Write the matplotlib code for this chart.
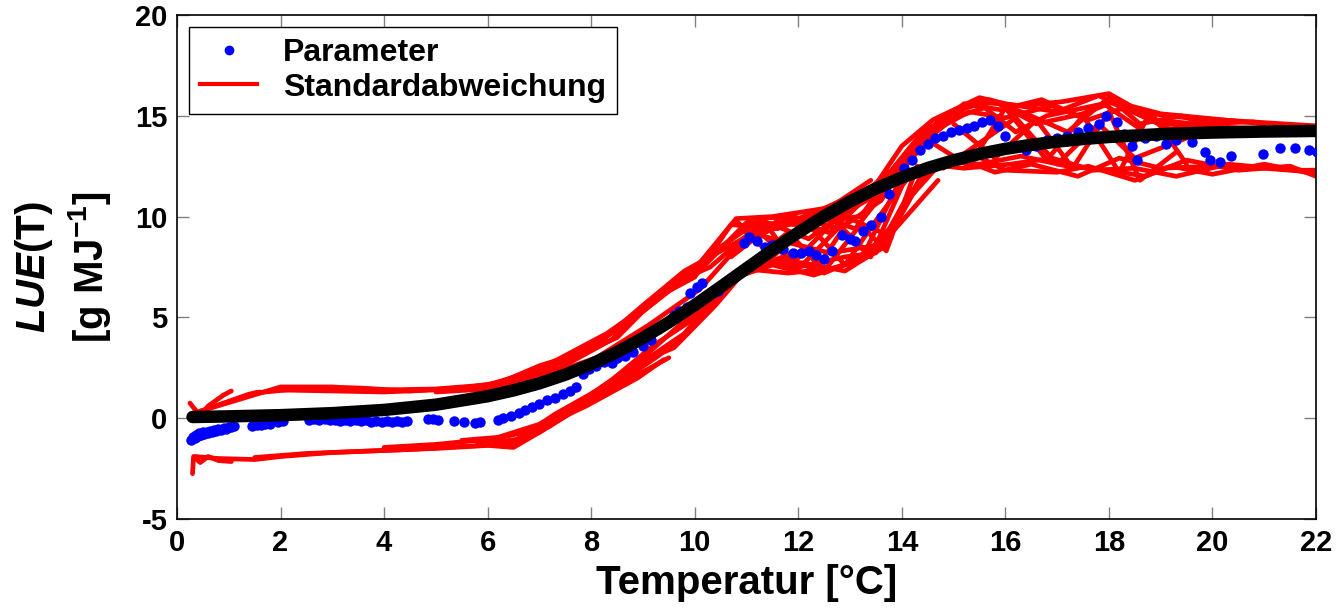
import matplotlib
matplotlib.use('Agg')
import matplotlib.pyplot as plt
from matplotlib.lines import Line2D

plt.rcParams['font.family'] = ['Liberation Sans', 'DejaVu Sans']
plt.rcParams['font.weight'] = 'bold'
plt.rcParams['axes.unicode_minus'] = False
plt.rcParams['mathtext.fontset'] = 'custom'
plt.rcParams['mathtext.rm'] = 'Liberation Sans:bold'
plt.rcParams['mathtext.it'] = 'Liberation Sans:italic:bold'
plt.rcParams['mathtext.bf'] = 'Liberation Sans:bold'

# ---------------- data ----------------
x_ticks = [0, 2, 4, 6, 8, 10, 12, 14, 16, 18, 20, 22]
y_ticks = [-5, 0, 5, 10, 15, 20]

fit_T = [0.3, 1, 2, 3, 4, 5, 6, 6.5, 7, 7.5, 8, 8.5, 9, 9.5, 10, 10.5, 11, 11.5,
         12, 12.5, 13, 13.5, 14, 14.5, 15, 15.5, 16, 16.5, 17, 17.5, 18, 19, 20, 21, 22]
fit_v = [0.06, 0.09, 0.15, 0.25, 0.41, 0.67, 1.09, 1.38, 1.73, 2.16, 2.68, 3.28, 3.98,
         4.76, 5.61, 6.51, 7.43, 8.34, 9.21, 10.02, 10.75, 11.39, 11.94, 12.41, 12.79,
         13.11, 13.36, 13.56, 13.72, 13.85, 13.95, 14.09, 14.17, 14.22, 14.25]

param_T = [0.28, 0.31, 0.34, 0.37, 0.40, 0.43, 0.46, 0.50, 0.53, 0.57, 0.60, 0.64, 0.68,
           0.72, 0.76, 0.80, 0.85, 0.90, 0.95, 1.00, 1.05, 1.10,
           1.45, 1.55, 1.62, 1.70, 1.80, 1.95, 2.05,
           2.55, 2.65, 2.75, 2.85, 2.95, 3.05, 3.15, 3.25, 3.35, 3.45, 3.55, 3.65,
           3.75, 3.85, 3.95, 4.05, 4.15, 4.25, 4.35, 4.45,
           4.85, 4.95, 5.05, 5.35, 5.55, 5.75, 5.85,
           6.2, 6.3, 6.45, 6.6, 6.72, 6.85, 7.0, 7.15, 7.3, 7.45, 7.6, 7.7, 7.85, 7.95,
           8.1, 8.25, 8.4, 8.5, 8.65, 8.8,
           9.0, 9.15, 9.3, 9.45, 9.6, 9.7, 9.85, 9.9, 10.05, 10.15, 10.45,
           10.95, 11.05, 11.2, 11.35, 11.5, 11.7, 11.9, 12.05, 12.2, 12.35, 12.5, 12.65,
           12.85, 13.0, 13.1, 13.25, 13.4, 13.6, 13.75, 13.9,
           14.05, 14.2, 14.35, 14.5, 14.65, 14.8, 14.95, 15.1, 15.25, 15.4, 15.55, 15.7, 15.85,
           16.0, 16.2, 16.4, 16.6, 16.8, 17.0, 17.2, 17.4, 17.6, 17.8, 17.95, 18.15, 18.3,
           18.45, 18.55, 18.7, 18.9, 19.1, 19.3, 19.6, 19.85, 19.95, 20.15, 20.35,
           20.97, 21.3, 21.6, 21.86, 22.02]
param_v = [-1.10, -0.95, -1.0, -0.85, -0.9, -0.75, -0.85, -0.7, -0.8, -0.7, -0.75, -0.65, -0.7,
           -0.6, -0.65, -0.55, -0.6, -0.5, -0.55, -0.45, -0.45, -0.4,
           -0.4, -0.35, -0.35, -0.3, -0.3, -0.2, -0.15,
           -0.1, -0.05, -0.1, -0.05, -0.1, -0.1, -0.15, -0.1, -0.15, -0.1, -0.15, -0.1,
           -0.2, -0.15, -0.2, -0.15, -0.2, -0.15, -0.2, -0.15,
           -0.05, -0.05, -0.1, -0.15, -0.2, -0.25, -0.2,
           -0.1, 0.0, 0.1, 0.25, 0.4, 0.55, 0.7, 0.9, 1.0, 1.2, 1.35, 1.55, 2.2, 2.45,
           2.6, 2.8, 2.75, 3.0, 3.1, 3.3,
           3.6, 3.9, 4.4, 4.7, 5.1, 5.3, 5.5, 6.2, 6.5, 6.7, 6.3,
           8.7, 9.0, 8.8, 8.5, 8.6, 8.4, 8.2, 8.2, 8.3, 8.1, 7.9, 8.3,
           9.1, 8.9, 8.8, 9.3, 9.6, 10.0, 11.1, 11.8,
           12.4, 12.8, 13.3, 13.6, 13.9, 14.0, 14.2, 14.3, 14.4, 14.5, 14.7, 14.8, 14.5,
           14.0, 13.5, 13.3, 13.5, 13.8, 13.9, 14.0, 14.2, 14.4, 14.6, 15.0, 14.7, 14.1,
           13.5, 12.8, 13.9, 14.0, 13.6, 13.8, 13.7, 13.2, 12.8, 12.7, 13.0,
           13.1, 13.4, 13.4, 13.3, 13.2]

# standard deviation runs (upper band, lower band, crossing runs)
std_upper = [
    [(0.25, 0.75), (0.45, 0.1), (0.6, 0.6), (0.9, 1.15), (1.05, 1.35)],
    [(0.4, 0.3), (1.4, 1.2), (1.6, 1.3)],
    [(0.45, 0.35), (2.0, 1.55), (3.0, 1.55), (4.0, 1.4), (5.0, 1.45), (6.0, 1.65), (7.0, 2.4),
     (8.0, 3.6), (9.0, 5.3), (10.0, 7.4), (10.8, 9.9), (11.5, 10.0), (12.5, 10.4), (13.5, 11.6),
     (14.0, 13.5), (14.6, 14.8), (15.5, 15.9), (16.0, 15.6), (17.0, 15.2), (17.8, 16.0),
     (18.5, 15.2), (19.5, 14.9), (22.0, 14.5)],
    [(1.5, 1.25), (2.5, 1.5), (3.5, 1.5), (4.5, 1.35), (5.5, 1.5), (6.2, 1.75), (7.2, 2.7),
     (8.3, 4.2), (9.3, 6.0), (10.2, 7.6), (11.0, 9.7), (12.0, 9.6), (13.0, 10.6), (13.8, 12.3),
     (14.4, 14.2), (15.2, 15.4), (15.8, 15.7), (16.6, 14.6), (17.5, 15.1), (18.0, 15.7),
     (19.0, 14.6), (20.5, 14.4), (22.0, 14.3)],
    [(2.0, 1.4), (4.0, 1.3), (5.8, 1.5), (6.8, 2.2), (7.8, 3.2), (8.8, 4.9), (9.8, 6.9),
     (10.9, 9.3), (11.3, 9.8), (12.2, 8.9), (12.9, 10.2), (13.6, 11.2), (14.2, 13.2),
     (15.0, 14.9), (15.6, 15.4), (16.2, 14.2), (16.8, 15.0), (17.9, 15.6), (18.8, 14.0),
     (19.6, 14.6), (20.8, 14.7)],
    [(6.0, 1.5), (7.0, 2.6), (8.0, 3.4), (9.0, 5.6), (9.8, 7.3), (11.0, 9.0), (11.8, 9.9),
     (12.6, 9.2), (13.3, 10.9), (14.0, 12.8), (14.8, 15.0), (15.7, 15.8), (16.4, 15.1),
     (17.2, 14.2), (18.0, 15.9), (18.6, 14.6), (19.4, 15.0), (20.2, 14.3)],
    [(6.5, 1.8), (7.5, 2.9), (8.5, 4.0), (9.5, 6.6), (10.3, 7.5), (11.2, 9.5), (12.4, 9.8),
     (13.2, 10.0), (14.3, 13.8), (15.3, 15.2), (16.0, 14.9), (16.9, 15.5), (17.6, 14.8),
     (18.3, 15.4), (19.2, 14.3), (20.0, 14.8)],
    [(5.0, 1.3), (6.0, 1.45), (6.8, 2.0), (7.6, 3.0), (8.6, 4.6), (9.6, 6.8), (10.5, 8.4),
     (11.1, 9.9), (11.9, 10.0), (12.8, 9.4), (13.6, 10.8), (14.3, 13.6), (15.2, 15.6),
     (15.9, 15.3), (16.7, 15.8), (17.4, 15.0), (18.1, 15.7), (19.0, 15.1), (21.0, 14.6)],
    [(6.3, 1.6), (7.4, 2.5), (8.4, 3.9), (9.2, 5.9), (10.0, 7.0), (10.7, 9.6), (11.6, 9.4),
     (12.3, 10.1), (13.1, 9.4), (13.9, 12.0), (14.7, 14.4), (15.4, 15.7), (16.3, 15.5),
     (17.1, 15.7), (18.0, 16.1), (18.9, 14.8), (20.0, 14.5)],
    [(7.0, 2.0), (8.1, 3.0), (9.1, 4.6), (10.1, 6.4), (10.9, 8.7), (11.7, 9.6), (12.7, 10.6),
     (13.4, 11.8)],
]
std_lower = [
    [(0.3, -2.75), (0.32, -1.9), (0.45, -2.2), (0.6, -1.9), (0.8, -2.1), (1.05, -2.15)],
    [(0.35, -1.9), (0.8, -2.0), (1.5, -2.05), (2.0, -1.9), (3.0, -1.7), (4.0, -1.6),
     (5.0, -1.5), (6.0, -1.35), (6.5, -1.45), (7.2, -0.4), (8.0, 0.9), (9.0, 2.3), (9.5, 3.0)],
    [(1.5, -1.95), (2.5, -1.75), (3.5, -1.65), (4.5, -1.55), (5.5, -1.4), (6.3, -1.3),
     (7.0, -0.7), (8.0, 1.2), (8.8, 2.6), (9.6, 3.5), (10.4, 5.6), (11.0, 7.4), (11.8, 7.2),
     (12.6, 7.4), (13.2, 7.8), (13.6, 8.4), (14.1, 11.0), (14.6, 12.4), (15.3, 13.2),
     (16.0, 12.3), (17.0, 12.2), (17.6, 12.5), (18.5, 11.8), (19.2, 12.5), (20.0, 12.1),
     (21.0, 12.6), (22.0, 12.1)],
    [(4.0, -1.45), (5.0, -1.3), (6.0, -1.05), (6.6, -1.2), (7.5, 0.1), (8.5, 1.7), (9.3, 3.1),
     (10.0, 4.6), (10.8, 7.0), (11.5, 7.6), (12.3, 7.1), (13.0, 7.7), (13.8, 9.2),
     (14.4, 12.0), (15.0, 13.0), (15.8, 12.2), (16.5, 12.6), (17.4, 12.0), (18.2, 12.9),
     (19.0, 12.4), (20.0, 12.5), (21.0, 12.4), (22.0, 12.2)],
    [(5.5, -1.1), (6.2, -0.95), (7.0, -0.3), (7.8, 0.8), (8.7, 2.2), (9.4, 3.4)],
    [(6.4, -1.35), (7.3, 0.2), (8.2, 1.5), (9.0, 2.8), (9.8, 4.2), (10.6, 6.6), (11.4, 7.8),
     (12.0, 7.5), (12.9, 8.0), (13.5, 8.2), (14.0, 10.5), (14.8, 12.8), (15.5, 12.6),
     (16.3, 13.0), (17.2, 12.5), (18.0, 12.3), (18.7, 12.0), (19.5, 12.8), (20.5, 12.3),
     (21.5, 12.5), (22.0, 12.0)],
    [(6.0, -1.25), (6.7, -1.0), (7.6, 0.4), (8.4, 1.9), (9.2, 3.6), (10.2, 5.3), (10.9, 7.2),
     (11.7, 8.0), (12.5, 7.2), (13.3, 8.1), (13.9, 9.8), (14.5, 12.6), (15.2, 12.4),
     (16.1, 12.6), (16.9, 12.9), (17.7, 12.3), (18.5, 12.4), (19.3, 12.0), (20.3, 12.6),
     (21.6, 12.3), (22.0, 12.3)],
    [(6.5, -1.15), (7.2, -0.2), (8.1, 1.3), (9.0, 3.0), (9.7, 4.6), (10.5, 6.2), (11.2, 7.9),
     (12.1, 7.7), (12.9, 7.3), (13.7, 8.6)],
    [(5.8, -1.2), (6.9, -0.6), (7.9, 0.6), (8.9, 2.0), (9.4, 2.9)],
]
std_cross = [
    [(10.8, 9.8), (11.5, 8.0), (12.2, 9.6), (12.9, 7.6), (13.5, 9.8), (14.2, 12.2)],
    [(10.5, 8.5), (11.3, 9.9), (12.0, 7.4), (12.8, 9.5), (13.4, 8.0), (14.0, 11.5)],
    [(11.0, 7.6), (11.8, 9.2), (12.5, 7.3), (13.2, 9.6), (13.7, 8.3), (14.3, 12.5)],
    [(10.9, 9.3), (12.6, 8.2), (13.6, 8.6), (14.7, 11.8)],
    [(10.7, 8.0), (11.6, 9.8), (12.4, 7.6), (13.0, 9.9), (13.8, 9.0)],
    [(11.1, 9.6), (11.9, 7.7), (12.7, 9.8), (13.3, 8.3), (14.0, 12.0)],
    [(14.5, 13.8), (15.3, 12.5), (16.0, 15.4), (16.8, 12.8), (17.5, 15.0), (18.2, 12.2),
     (18.8, 15.2), (19.5, 12.6)],
    [(15.0, 14.6), (15.8, 12.9), (16.6, 14.8), (17.3, 12.4), (18.0, 15.2), (18.6, 11.8),
     (19.3, 13.2)],
    [(14.8, 12.4), (16.2, 14.9), (17.0, 12.6), (17.8, 14.6), (18.5, 12.9), (19.8, 14.2)],
]

# ---------------- figure ----------------
W, H = 1338, 609
fig = plt.figure(figsize=(W / 100, H / 100), dpi=100)
ax = fig.add_axes([177 / W, 90 / H, (1316 - 177) / W, (519 - 15) / H])

for run in std_upper + std_lower + std_cross:
    xs = [p[0] for p in run]
    ys = [p[1] for p in run]
    ax.plot(xs, ys, color='#ff0000', lw=3.4, solid_joinstyle='round',
            solid_capstyle='round', zorder=2)

ax.plot(param_T, param_v, 'o', color='#0000ff', ms=7.5, mec='none', zorder=3)
ax.plot(fit_T, fit_v, color='black', lw=9, solid_capstyle='round', zorder=4)

ax.set_xlim(0, 22)
ax.set_ylim(-5, 20)
ax.set_xticks(x_ticks)
ax.set_yticks(y_ticks)
ax.tick_params(direction='in', length=8.5, width=1.0, color='#808080',
               top=True, right=True, labelsize=21, pad=7)
for sp in ax.spines.values():
    sp.set_linewidth(1.2)
    sp.set_color('black')

ax.set_xlabel('Temperatur [°C]', fontsize=29, fontweight='bold', labelpad=5)
ax.set_ylabel(r'$\mathit{LUE}$(T)' + '\n' + r'[g MJ$^{-1}$]', fontsize=29,
              fontweight='bold', labelpad=16, linespacing=1.3)

handles = [Line2D([], [], ls='none', marker='o', color='#0000ff', ms=7, mec='none'),
           Line2D([], [], color='#ff0000', lw=3)]
leg = ax.legend(handles, ['Parameter', 'Standardabweichung'],
                loc='upper left', bbox_to_anchor=(12 / 1139, 1 - 12 / 504),
                borderaxespad=0, fancybox=False, framealpha=1, edgecolor='black',
                prop={'size': 23, 'weight': 'bold'}, handlelength=1.8,
                handletextpad=0.8, borderpad=0.34, labelspacing=0.15)
leg.get_frame().set_linewidth(1.0)

fig.savefig('out.png', dpi=100)
